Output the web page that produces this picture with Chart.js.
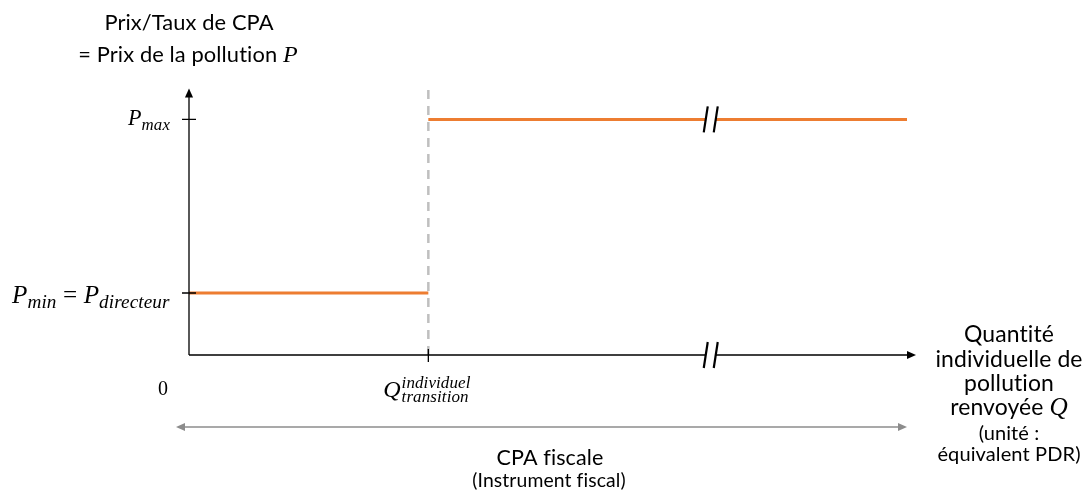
<!DOCTYPE html>
<html>
<head>
<meta charset="utf-8">
<script src="https://cdn.jsdelivr.net/npm/chart.js@4"></script>
<style>
  html, body { margin: 0; padding: 0; background: #fff; }
  #wrap { width: 1085px; height: 493px; position: relative; }
</style>
</head>
<body>
<div id="wrap"><canvas id="chart"></canvas></div>
<script>
// Quantités (axe x) : origine, seuil de transition, fin du tracé
const qPoints = [0, 1, 3];
const qBreak = 2.18;          // position de la coupure "//"
// Prix (axe y)
const priceMin = 1;           // P_min = P_directeur
const priceMax = 3.8;         // P_max
const axisTopY = 4.3;         // haut de la ligne pointillée
// Libellés
const titleLines = ['Prix/Taux de CPA', '= Prix de la pollution '];
const xTitleLines = ['Quantité', 'individuelle de', 'pollution', 'renvoyée '];
const unitLines = ['(unité :', 'équivalent PDR)'];
const rangeLabels = ['CPA fiscale', '(Instrument fiscal)'];

const ORANGE = '#ED7D31';
const SANS = 'Lato, "Open Sans", sans-serif';
const MATH = '"Liberation Serif", "DejaVu Serif", serif';

// choisit la taille de police pour qu'un texte ait la largeur voulue
function fitSans(ctx, text, width) {
    ctx.font = '100px ' + SANS;
    const s = 100 * width / ctx.measureText(text).width;
    ctx.font = s.toFixed(2) + 'px ' + SANS;
    return s;
}

function drawMath(ctx, parts, x, y, align, width) {
    // parts: [text, size, dy, italic]
    const fontOf = (p, k) => (p[3] ? 'italic ' : '') + (p[1] * k).toFixed(2) + 'px ' + MATH;
    let w = 0;
    parts.forEach(p => { ctx.font = fontOf(p, 1); w += ctx.measureText(p[0]).width; });
    const k = width ? width / w : 1;
    w = w * k;
    let cx = align === 'right' ? x - w : align === 'center' ? x - w / 2 : x;
    ctx.textAlign = 'left';
    ctx.textBaseline = 'alphabetic';
    parts.forEach(p => {
        ctx.font = fontOf(p, k);
        ctx.fillText(p[0], cx, y + p[2]);
        cx += ctx.measureText(p[0]).width;
    });
}

function arrowHead(ctx, x, y, dir, size, color) {
    ctx.save();
    ctx.fillStyle = color;
    ctx.translate(x, y);
    ctx.rotate(dir);
    ctx.beginPath();
    ctx.moveTo(0, 0);
    ctx.lineTo(-size, -size * 0.45);
    ctx.lineTo(-size, size * 0.45);
    ctx.closePath();
    ctx.fill();
    ctx.restore();
}

function breakMark(ctx, x, y) {
    ctx.save();
    ctx.fillStyle = '#fff';
    ctx.fillRect(x - 5, y - 4, 10, 8);
    ctx.strokeStyle = '#000';
    ctx.lineWidth = 2.2;
    [-5, 5].forEach(d => {
        ctx.beginPath();
        ctx.moveTo(x + d - 2, y + 13);
        ctx.lineTo(x + d + 2, y - 13);
        ctx.stroke();
    });
    ctx.restore();
}

const axesPlugin = {
    id: 'schema',
    afterDatasetsDraw(chart) {
        const ctx = chart.ctx;
        const xs = chart.scales.x, ys = chart.scales.y;
        const x0 = xs.getPixelForValue(0), y0 = ys.getPixelForValue(0);
        const xEnd = xs.getPixelForValue(qPoints[2]);
        const xT = xs.getPixelForValue(qPoints[1]);
        const yMin = ys.getPixelForValue(priceMin), yMax = ys.getPixelForValue(priceMax);
        const xB = xs.getPixelForValue(qBreak);
        ctx.save();
        ctx.letterSpacing = '0.1px';
        // axes
        ctx.strokeStyle = '#000';
        ctx.lineWidth = 1.3;
        ctx.beginPath();
        ctx.moveTo(x0, y0); ctx.lineTo(x0, ys.getPixelForValue(axisTopY) + 4);
        ctx.moveTo(x0, y0); ctx.lineTo(xEnd + 2, y0);
        ctx.stroke();
        arrowHead(ctx, x0, ys.getPixelForValue(axisTopY), -Math.PI / 2, 9, '#000');
        arrowHead(ctx, xEnd + 9, y0, 0, 9, '#000');
        // ticks
        ctx.beginPath();
        ctx.moveTo(x0 - 7, yMax); ctx.lineTo(x0 + 7, yMax);
        ctx.moveTo(x0 - 7, yMin); ctx.lineTo(x0 + 7, yMin);
        ctx.moveTo(xT, y0 - 6); ctx.lineTo(xT, y0 + 7);
        ctx.stroke();
        // breaks
        breakMark(ctx, xB, yMax);
        breakMark(ctx, xB, y0);
        // range arrow
        const yR = 427;
        ctx.strokeStyle = '#8c8c8c';
        ctx.lineWidth = 1.3;
        ctx.beginPath();
        ctx.moveTo(x0 - 8, yR); ctx.lineTo(xEnd - 4, yR);
        ctx.stroke();
        arrowHead(ctx, x0 - 13, yR, Math.PI, 9, '#8c8c8c');
        arrowHead(ctx, xEnd, yR, 0, 9, '#8c8c8c');

        // texts
        ctx.fillStyle = '#000';
        ctx.textAlign = 'center';
        ctx.textBaseline = 'alphabetic';
        const tSize = fitSans(ctx, titleLines[0], 168);
        ctx.fillText(titleLines[0], 189, 30);
        const w1 = ctx.measureText(titleLines[1]).width;
        ctx.font = 'italic ' + (tSize * 1.1).toFixed(2) + 'px ' + MATH;
        const wP = ctx.measureText('P').width;
        const sx = 188 - (w1 + wP) / 2;
        ctx.textAlign = 'left';
        ctx.font = tSize.toFixed(2) + 'px ' + SANS;
        ctx.fillText(titleLines[1], sx, 62);
        ctx.font = 'italic ' + (tSize * 1.1).toFixed(2) + 'px ' + MATH;
        ctx.fillText('P', sx + w1, 62);

        // y labels
        drawMath(ctx, [['P', 21, 0, true], ['max', 16, 5, true]], 170, yMax + 6, 'right', 42);
        drawMath(ctx, [['P', 21, 0, true], ['min', 16, 4.5, true], [' = ', 21, 0, false],
                       ['P', 21, 0, true], ['directeur', 16, 4.5, true]], 170, yMin + 10, 'right', 158);
        drawMath(ctx, [['0', 20, 0, false]], 163, 395, 'center');
        // Q transition
        ctx.font = 'italic 24px ' + MATH;
        const wQ = ctx.measureText('Q').width;
        ctx.font = 'italic 17px ' + MATH;
        const wSup = Math.max(ctx.measureText('individuel').width, ctx.measureText('transition').width);
        const qx = xT - (wQ + wSup) / 2 - 2;
        ctx.font = 'italic 24px ' + MATH;
        ctx.fillText('Q', qx, 397);
        ctx.font = 'italic 17px ' + MATH;
        ctx.fillText('individuel', qx + wQ + 1, 388);
        ctx.fillText('transition', qx + wQ + 1, 402);

        // x title
        ctx.textAlign = 'center';
        const cxT = 1009;
        const rSize = fitSans(ctx, xTitleLines[1], 146);
        [342, 367, 391].forEach((yy, i) => ctx.fillText(xTitleLines[i], cxT, yy));
        const wr = ctx.measureText(xTitleLines[3]).width;
        ctx.font = 'italic ' + (rSize * 1.1).toFixed(2) + 'px ' + MATH;
        const wq = ctx.measureText('Q').width;
        ctx.textAlign = 'left';
        ctx.font = rSize.toFixed(2) + 'px ' + SANS;
        ctx.fillText(xTitleLines[3], cxT - (wr + wq) / 2, 415);
        ctx.font = 'italic ' + (rSize * 1.1).toFixed(2) + 'px ' + MATH;
        ctx.fillText('Q', cxT - (wr + wq) / 2 + wr, 415);
        ctx.textAlign = 'center';
        fitSans(ctx, unitLines[1], 142);
        ctx.fillText(unitLines[0], cxT, 440);
        ctx.fillText(unitLines[1], cxT, 461);

        // range labels
        fitSans(ctx, rangeLabels[0], 106);
        ctx.fillText(rangeLabels[0], 550, 465);
        fitSans(ctx, rangeLabels[1], 152);
        ctx.fillText(rangeLabels[1], 549, 487);
        ctx.restore();
    }
};

new Chart(document.getElementById('chart'), {
    type: 'scatter',
    data: {
        datasets: [
            {
                data: [{ x: qPoints[1], y: 0 }, { x: qPoints[1], y: axisTopY }],
                showLine: true, borderColor: '#BFBFBF', borderWidth: 2.5,
                borderDash: [9, 7], pointRadius: 0, clip: false
            },
            {
                data: [{ x: qPoints[0], y: priceMin }, { x: qPoints[1], y: priceMin }],
                showLine: true, borderColor: ORANGE, borderWidth: 3, pointRadius: 0
            },
            {
                data: [{ x: qPoints[1], y: priceMax }, { x: qPoints[2], y: priceMax }],
                showLine: true, borderColor: ORANGE, borderWidth: 3, pointRadius: 0
            }
        ]
    },
    options: {
        responsive: true,
        maintainAspectRatio: false,
        animation: false,
        layout: { padding: { left: 189, right: 178, top: 107, bottom: 138 } },
        plugins: { legend: { display: false }, tooltip: { enabled: false } },
        scales: {
            x: { type: 'linear', min: 0, max: 3, display: false },
            y: { type: 'linear', min: 0, max: 4, display: false }
        }
    },
    plugins: [axesPlugin]
});
</script>
</body>
</html>
